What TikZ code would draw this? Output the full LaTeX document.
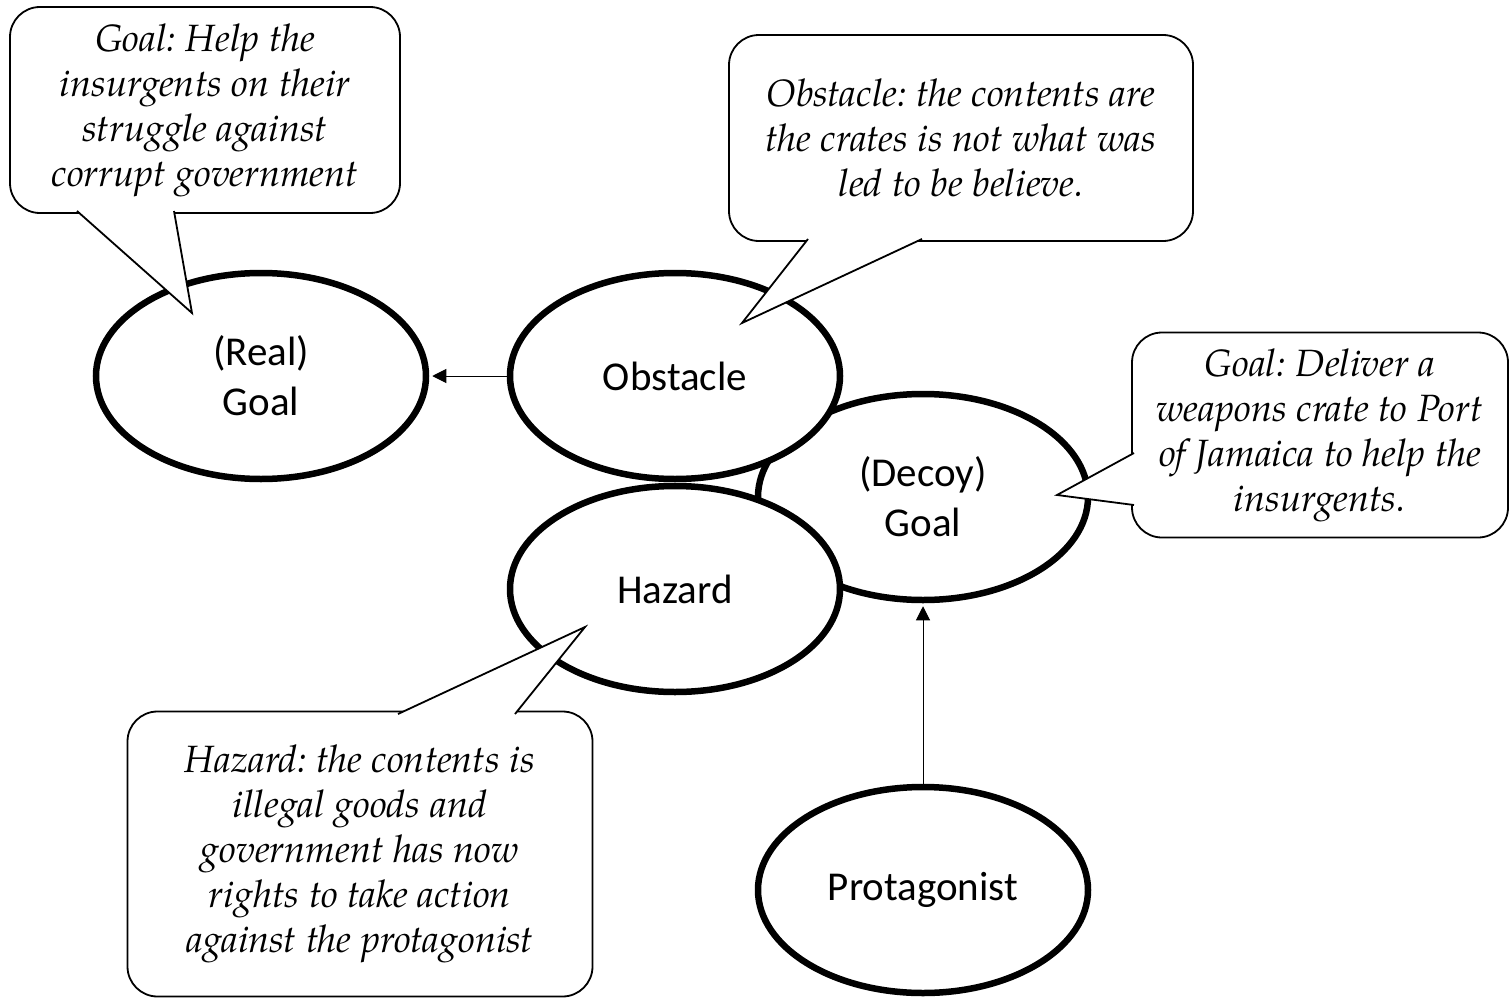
\documentclass[tikz,border=0pt]{standalone}
\usepackage{fontspec}
\setmainfont{Carlito}
\newfontfamily\notefont{texgyrepagella}[Extension=.otf, UprightFont=*-regular, ItalicFont=*-italic]
\usetikzlibrary{shapes.geometric, arrows.meta}
\frenchspacing

\begin{document}
\begin{tikzpicture}[x=1pt, y=-1pt,
  oval/.style={ellipse, draw, fill=white, line width=6.5pt,
    minimum width=330pt, minimum height=206pt, inner sep=0pt,
    align=center, font=\fontsize{41}{50}\selectfont},
  note/.style={rectangle, rounded corners=30pt, draw, fill=white,
    line width=1.8pt, inner sep=0pt, align=center,
    font=\notefont\itshape\fontsize{38}{45}\selectfont},
  tail/.style={draw, fill=white, line width=1.8pt, line join=miter},
  link/.style={line width=1pt, shorten >=3pt,
    -{Triangle[length=14pt, width=14pt]}}
]
\useasboundingbox (0,0) rectangle (1510,998);

% story elements
\node[oval] (dec) at (923,497) {(Decoy)\\Goal};
\node[oval] (obs) at (675,376) {Obstacle};
\node[oval] (haz) at (675,589) {Hazard};
\node[oval] (rg)  at (261,376) {(Real)\\Goal};
\node[oval] (pro) at (923,890) {Protagonist};

% relations
\draw[link] (obs.west) -- (rg.east);
\draw[link] (pro.north) -- (dec.south);

% speech bubbles
\node[note, minimum width=390pt, minimum height=206pt] (n1) at (205,110)
  {Goal: Help the\\insurgents on their\\struggle against\\corrupt government};
\node[note, minimum width=464pt, minimum height=206pt] (n2) at (961,138)
  {Obstacle: the contents are\\the crates is not what was\\led to be believe.};
\node[note, minimum width=376pt, minimum height=205pt] (n3) at (1320,435)
  {Goal: Deliver a\\weapons crate to Port\\of Jamaica to help the\\insurgents.};
\node[note, minimum width=465pt, minimum height=285pt] (n4) at (360,854)
  {Hazard: the contents is\\illegal goods and\\government has now\\rights to take action\\against the protagonist};

% bubble tails
\coordinate (t1) at (192,313);
\coordinate (t2) at (742,323);
\coordinate (t3) at (1057,495);
\coordinate (t4) at (585,627);
\draw[tail] (77,211) -- (t1) -- (174,211);
\draw[tail] (808,239) -- (t2) -- (922,239);
\draw[tail] (1134,453) -- (t3) -- (1134,505);
\draw[tail] (398,714) -- (t4) -- (515,714);
\end{tikzpicture}
\end{document}
